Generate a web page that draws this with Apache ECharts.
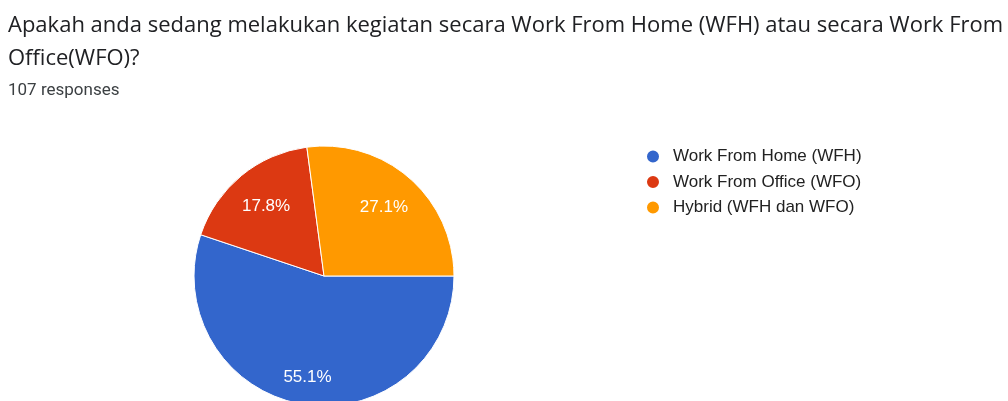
<!DOCTYPE html>
<html>
<head>
<meta charset="utf-8">
<script src="https://cdn.jsdelivr.net/npm/echarts@6/dist/echarts.min.js"></script>
<style>
  html, body { margin: 0; padding: 0; background: #ffffff; }
  #chart { width: 1008px; height: 401px; }
</style>
</head>
<body>
<div id="chart"></div>
<script>
// Survey answers (107 responses)
const categories = ['Work From Home (WFH)', 'Work From Office (WFO)', 'Hybrid (WFH dan WFO)'];
const counts = [59, 19, 29];
const sliceColors = ['#3366cc', '#dc3912', '#ff9900'];

const questionTitle = 'Apakah anda sedang melakukan kegiatan secara Work From Home (WFH) atau secara Work From\nOffice(WFO)?';
const responseNote = '107 responses';

const PIE_CENTER = [324, 276];

const total = counts.reduce((a, b) => a + b, 0);
const pctText = p => (p.value / total * 100).toFixed(1) + '%';

const pieData = categories.map((name, i) => ({
  name: name,
  value: counts[i],
  itemStyle: { color: sliceColors[i] }
}));

// Invisible copy of the pie that only carries percentage labels.
// showFor decides which slices get a label from this ring.
function labelRing(outerRadius, showFor) {
  return {
    type: 'pie',
    center: PIE_CENTER,
    radius: [0, outerRadius],
    startAngle: 0,
    clockwise: true,
    silent: true,
    legendHoverLink: false,
    data: categories.map((name, i) => ({
      name: name,
      value: counts[i],
      itemStyle: { color: 'rgba(0,0,0,0)' },
      label: { show: showFor.includes(i) }
    })),
    itemStyle: { borderWidth: 0 },
    label: {
      position: 'inside',
      formatter: pctText,
      fontFamily: 'Liberation Sans',
      fontSize: 17,
      color: '#ffffff'
    },
    labelLine: { show: false },
    emphasis: { disabled: true }
  };
}

const chart = echarts.init(document.getElementById('chart'), null, { renderer: 'canvas' });

chart.setOption({
  animation: false,
  backgroundColor: '#ffffff',
  title: [
    {
      text: questionTitle,
      left: 8,
      top: 9,
      padding: 0,
      textStyle: {
        fontFamily: 'Open Sans',
        fontSize: 22,
        fontWeight: 'normal',
        color: '#202124',
        lineHeight: 33
      }
    },
    {
      text: responseNote,
      left: 8,
      top: 82,
      padding: 0,
      textStyle: {
        fontFamily: 'Roboto',
        fontSize: 17,
        fontWeight: 'normal',
        color: '#3c4043',
        lineHeight: 17
      }
    }
  ],
  legend: {
    orient: 'vertical',
    left: 645,
    top: 148,
    padding: 0,
    icon: 'circle',
    itemWidth: 20,
    itemHeight: 14,
    itemGap: 8.5,
    selectedMode: false,
    data: categories,
    textStyle: {
      fontFamily: 'Liberation Sans',
      fontSize: 17,
      lineHeight: 12,
      color: '#222222',
      padding: [0, 0, 0, 5]
    }
  },
  series: [
    {
      type: 'pie',
      center: PIE_CENTER,
      radius: [0, 130],
      startAngle: 0,
      clockwise: true,
      silent: true,
      data: pieData,
      itemStyle: { borderColor: '#ffffff', borderWidth: 1 },
      label: { show: false },
      labelLine: { show: false }
    },
    labelRing(199, [0]),
    labelRing(176, [1, 2])
  ]
});
</script>
</body>
</html>
